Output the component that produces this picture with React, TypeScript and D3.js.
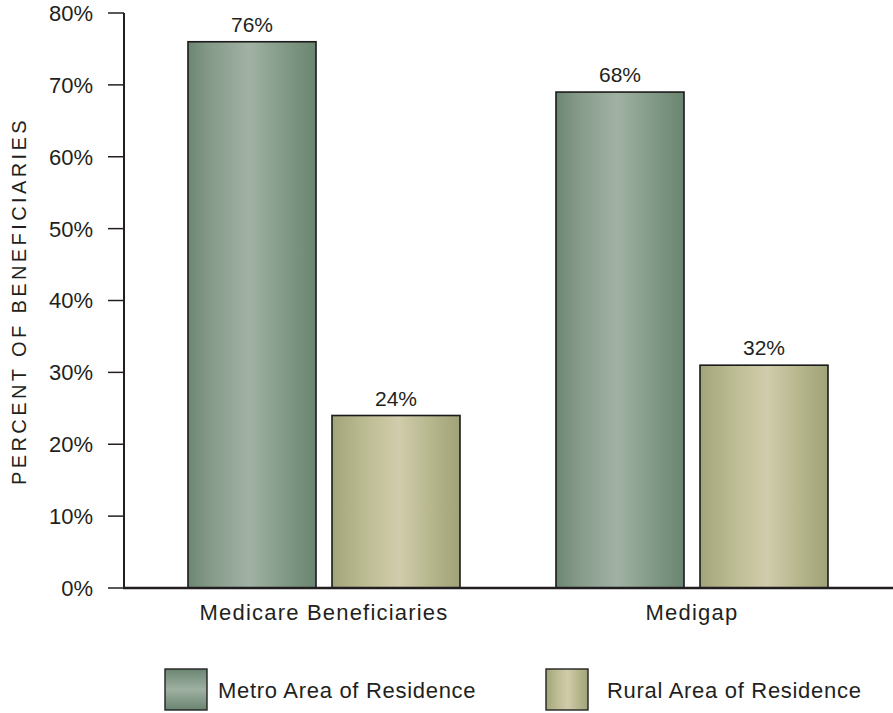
import React from "react";
import * as d3 from "d3";

// chart data
const categories = ["Medicare Beneficiaries", "Medigap"];
const seriesNames = ["Metro Area of Residence", "Rural Area of Residence"];
const metroValues = [76, 69];
const ruralValues = [24, 31];
const metroLabels = ["76%", "68%"];
const ruralLabels = ["24%", "32%"];
const yTicks = [0, 10, 20, 30, 40, 50, 60, 70, 80];

const W = 893;
const H = 713;
const FONT = "'Liberation Sans', Arial, sans-serif";
const INK = "#231f20";

const App: React.FC = () => {
  const y = d3.scaleLinear().domain([0, 80]).range([588, 13]);

  const x0 = d3
    .scaleBand<string>()
    .domain(categories)
    .range([140, 876])
    .paddingInner(96 / 368)
    .paddingOuter(48 / 368);

  const x1 = d3
    .scaleBand<string>()
    .domain(seriesNames)
    .range([0, x0.bandwidth()])
    .paddingInner(16 / 144);

  const fills = ["url(#metroGrad)", "url(#ruralGrad)"];
  const rows = categories.map((c, i) => ({
    category: c,
    bars: [
      { series: seriesNames[0], value: metroValues[i], label: metroLabels[i], fill: fills[0] },
      { series: seriesNames[1], value: ruralValues[i], label: ruralLabels[i], fill: fills[1] },
    ],
  }));

  const axisX = 124;
  const legendX = [165, 546];

  return (
    <div style={{ position: "absolute", left: 0, top: 0 }}>
      <svg width={W} height={H} style={{ display: "block", background: "#fff" }}>
        <defs>
          <linearGradient id="metroGrad" x1="0" x2="1" y1="0" y2="0">
            <stop offset="0%" stopColor="#6b8673" />
            <stop offset="18%" stopColor="#879b8a" />
            <stop offset="48%" stopColor="#a1b2a4" />
            <stop offset="75%" stopColor="#829a87" />
            <stop offset="100%" stopColor="#6a8571" />
          </linearGradient>
          <linearGradient id="ruralGrad" x1="0" x2="1" y1="0" y2="0">
            <stop offset="0%" stopColor="#a2a479" />
            <stop offset="25%" stopColor="#bbbb92" />
            <stop offset="52%" stopColor="#d1ccab" />
            <stop offset="78%" stopColor="#b5b68c" />
            <stop offset="100%" stopColor="#a0a277" />
          </linearGradient>
          <linearGradient id="metroLegend" x1="0" x2="0" y1="0" y2="1">
            <stop offset="0%" stopColor="#6b8673" />
            <stop offset="50%" stopColor="#9fb0a2" />
            <stop offset="100%" stopColor="#6a8571" />
          </linearGradient>
        </defs>

        {/* y axis title */}
        <text
          transform={`translate(26, 301) rotate(-90)`}
          textAnchor="middle"
          fontFamily={FONT}
          fontSize={20}
          letterSpacing={3.4}
          fill={INK}
        >
          PERCENT OF BENEFICIARIES
        </text>

        {/* ticks */}
        {yTicks.map((t) => (
          <g key={t}>
            <line x1={108} x2={axisX} y1={y(t)} y2={y(t)} stroke={INK} strokeWidth={1.5} />
            <text
              x={93}
              y={y(t)}
              dy="0.36em"
              textAnchor="end"
              fontFamily={FONT}
              fontSize={22}
              fill={INK}
            >
              {t}%
            </text>
          </g>
        ))}

        {/* bars */}
        {rows.map((r) => (
          <g key={r.category} transform={`translate(${x0(r.category)},0)`}>
            {r.bars.map((b) => {
              const bx = x1(b.series)!;
              return (
                <g key={b.series}>
                  <rect
                    x={bx}
                    y={y(b.value)}
                    width={x1.bandwidth()}
                    height={y(0) - y(b.value)}
                    fill={b.fill}
                    stroke="#1a1a1a"
                    strokeWidth={1.6}
                  />
                  <text
                    x={bx + x1.bandwidth() / 2}
                    y={y(b.value) - 10}
                    textAnchor="middle"
                    fontFamily={FONT}
                    fontSize={21}
                    fill={INK}
                  >
                    {b.label}
                  </text>
                </g>
              );
            })}
            <text
              x={x0.bandwidth() / 2}
              y={620}
              textAnchor="middle"
              fontFamily={FONT}
              fontSize={22}
              letterSpacing={1.2}
              fill={INK}
            >
              {r.category}
            </text>
          </g>
        ))}

        {/* axes */}
        <line x1={axisX} x2={axisX} y1={y(80)} y2={y(0)} stroke={INK} strokeWidth={2} />
        <line x1={axisX - 1} x2={W} y1={y(0)} y2={y(0)} stroke={INK} strokeWidth={2.5} />

        {/* legend */}
        {seriesNames.map((s, i) => (
          <g key={s} transform={`translate(${legendX[i]},669)`}>
            <rect
              x={0}
              y={0}
              width={42}
              height={41}
              fill={i === 0 ? "url(#metroLegend)" : fills[1]}
              stroke="#222"
              strokeWidth={1.4}
            />
            <text
              x={i === 0 ? 53 : 61}
              y={29}
              fontFamily={FONT}
              fontSize={22}
              letterSpacing={0.7}
              fill={INK}
            >
              {s}
            </text>
          </g>
        ))}
      </svg>
    </div>
  );
};

export default App;
